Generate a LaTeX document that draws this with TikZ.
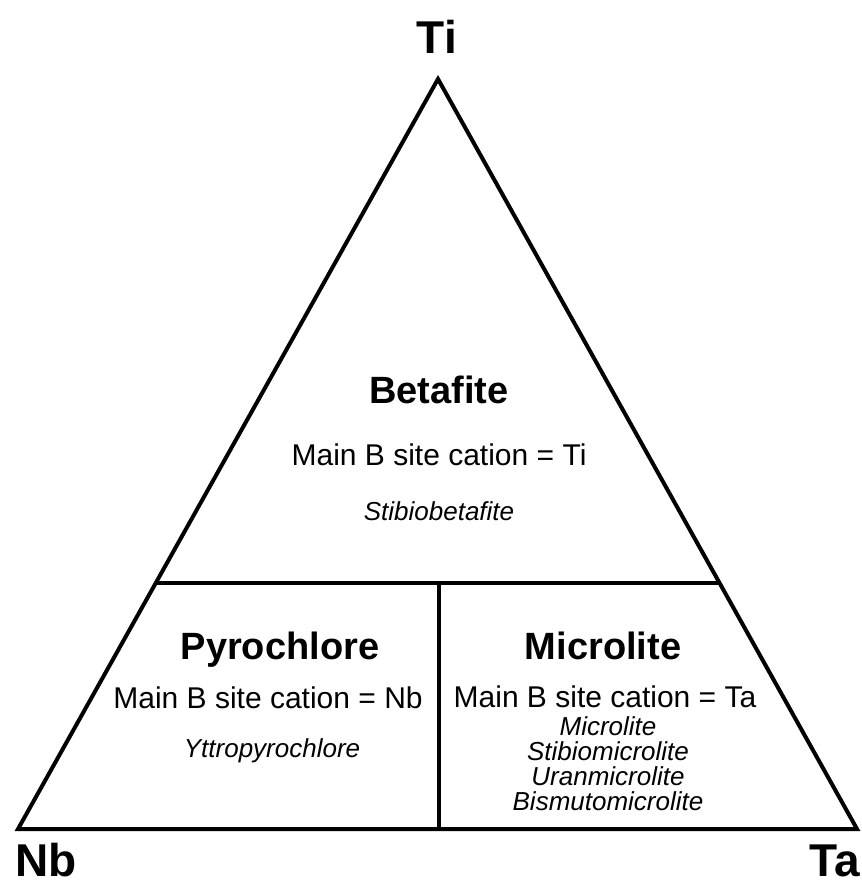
\documentclass[tikz,border=0pt]{standalone}
\usepackage{fontspec}
\setmainfont{Liberation Sans}
\usetikzlibrary{calc}
\begin{document}
\begin{tikzpicture}[x=1pt,y=-1pt,
  edge/.style={line width=4pt, line join=miter},
  divider/.style={line width=3.5pt},
  corner/.style={font=\fontsize{46}{50}\selectfont\bfseries, anchor=base, inner sep=0pt},
  head/.style={font=\fontsize{38}{42}\selectfont\bfseries, anchor=base, inner sep=0pt},
  main/.style={font=\fontsize{30}{34}\selectfont, anchor=base, inner sep=0pt},
  mineral/.style={font=\fontsize{26}{26}\selectfont\itshape, anchor=base, inner sep=0pt}]
\useasboundingbox (0,0) rectangle (862,884);
% vertices
\coordinate (T) at (438,79);
\coordinate (L) at (18,829);
\coordinate (R) at (857,829);
\coordinate (ML) at ($(L)!0.328!(T)$);
\coordinate (MR) at ($(R)!0.328!(T)$);
\coordinate (MT) at (439,583);
\coordinate (MB) at (439,829);
\draw[edge] (T) -- (L) -- (R) -- cycle;
\draw[divider] (ML) -- (MR);
\draw[divider] (MT) -- (MB);
% corner labels
\node[corner] (ti) at (437,53) {Ti};
\node[corner] (nb) at (46,876) {Nb};
\node[corner] (ta) at (835,876) {Ta};
% Betafite field
\node[head] (bet) at (439,403) {Betafite};
\node[main] (betm) at (439,465) {Main B site cation = Ti};
\node[mineral] (bet1) at (439,520) {Stibiobetafite};
% Pyrochlore field
\node[head] (pyr) at (280,659) {Pyrochlore};
\node[main] (pyrm) at (268,708) {Main B site cation = Nb};
\node[mineral] (pyr1) at (272,757) {Yttropyrochlore};
% Microlite field
\node[head] (mic) at (603,659) {Microlite};
\node[main] (micm) at (605,707) {Main B site cation = Ta};
\node[mineral] (mic1) at (608,735) {Microlite};
\node[mineral] (mic2) at (608,760) {Stibiomicrolite};
\node[mineral] (mic3) at (608,785) {Uranmicrolite};
\node[mineral] (mic4) at (608,810) {Bismutomicrolite};
\end{tikzpicture}
\end{document}
